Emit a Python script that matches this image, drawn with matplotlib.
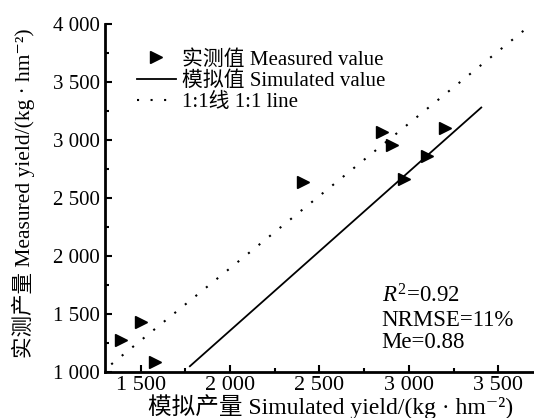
import matplotlib
matplotlib.use("Agg")
import matplotlib.pyplot as plt
from matplotlib.ticker import FixedLocator, AutoMinorLocator

plt.rcParams['font.family'] = ['Liberation Serif', 'DejaVu Serif', 'Noto Sans CJK SC']
plt.rcParams['mathtext.fontset'] = 'custom'
plt.rcParams['mathtext.rm'] = 'Liberation Serif'
plt.rcParams['mathtext.it'] = 'Liberation Serif:italic'

# 모의값 / 실측값
sim_yield = [1390, 1500, 1580, 2405, 2850, 2905, 2975, 3100, 3200]
meas_yield = [1275, 1435, 1090, 2640, 3065, 2955, 2660, 2865, 3105]

# 회귀선, 1:1 선 끝점
fit_x = [1775, 3405]
fit_y = [1050, 3280]
one_x = [1335, 3680]
one_y = [1066, 3990]

x_ticks = [1500, 2000, 2500, 3000, 3500]
y_ticks = [1000, 1500, 2000, 2500, 3000, 3500, 4000]
x_labels = ["1 500", "2 000", "2 500", "3 000", "3 500"]
y_labels = ["1 000", "1 500", "2 000", "2 500", "3 000", "3 500", "4 000"]

fig = plt.figure(figsize=(5.34, 4.18), dpi=100)
ax = fig.add_axes([0.1966, 0.110, 0.8034, 0.8326])

ax.plot(sim_yield, meas_yield, linestyle='none', marker='>', color='black',
        markersize=8, label='实测值 Measured value')
ax.plot(fit_x, fit_y, color='black', lw=1.3, label='模拟值 Simulated value')
ax.plot(one_x, one_y, color='black', lw=1.5, linestyle=(0, (1, 5.5)),
        label='1:1线 1:1 line')

ax.set_xlim(1300, 3700)
ax.set_ylim(1000, 4000)
ax.xaxis.set_major_locator(FixedLocator(x_ticks))
ax.yaxis.set_major_locator(FixedLocator(y_ticks))
ax.set_xticklabels(x_labels)
ax.set_yticklabels(y_labels)
ax.xaxis.set_minor_locator(AutoMinorLocator(2))
ax.yaxis.set_minor_locator(AutoMinorLocator(2))

ax.spines['top'].set_visible(False)
ax.spines['right'].set_visible(False)
ax.spines['left'].set_linewidth(2)
ax.spines['bottom'].set_linewidth(2)
ax.tick_params(which='major', direction='in', length=5, width=1.5, labelsize=15, pad=3.5)
ax.tick_params(axis='x', which='major', labelsize=16, pad=3)
ax.tick_params(which='minor', direction='in', length=3, width=1.5)

ax.set_xlabel('模拟产量 Simulated yield/(kg · hm⁻²)', fontsize=17, va='center')
ax.xaxis.set_label_coords(0.525, -0.10)
ax.set_ylabel('实测产量 Measured yield/(kg · hm⁻²)', fontsize=15.5, va='center')
ax.yaxis.set_label_coords(-0.191, 0.515)

ax.legend(loc='upper left', bbox_to_anchor=(0.075, 0.925), frameon=False,
          fontsize=15, handlelength=1.85, handletextpad=0.3, labelspacing=0.08,
          borderpad=0, borderaxespad=0)

ax.text(0.645, 0.22, '$R^2$=0.92', transform=ax.transAxes, fontsize=16.5, va='center')
ax.text(0.645, 0.149, 'NRMSE=11%', transform=ax.transAxes, fontsize=16.5, va='center')
ax.text(0.645, 0.086, 'Me=0.88', transform=ax.transAxes, fontsize=16.5, va='center')

fig.savefig('out.png', dpi=100)
